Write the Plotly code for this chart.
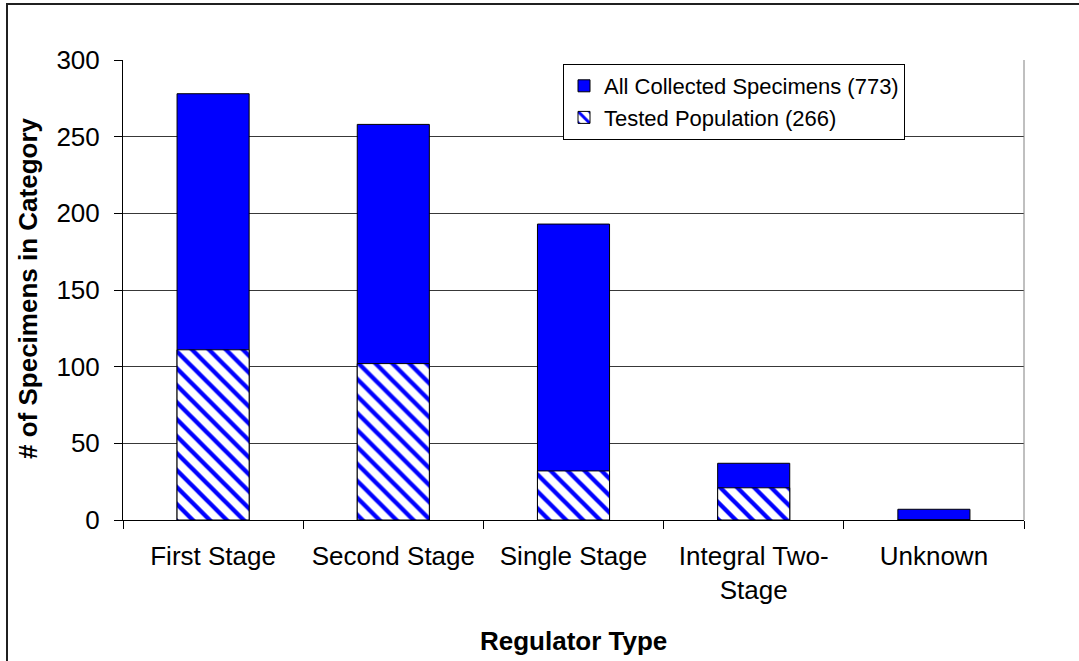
import plotly.graph_objects as go

categories = ["First Stage", "Second Stage", "Single Stage", "Integral Two-<br>Stage", "Unknown"]
all_collected = [278, 258, 193, 37, 7]
tested = [111, 102, 32, 21, 0]
series_names = ["All Collected Specimens (773)", "Tested Population (266)"]
y_ticks = [0, 50, 100, 150, 200, 250, 300]
x_title = "Regulator Type"
y_title = "# of Specimens in Category"

FONT = "Liberation Sans, Arial, sans-serif"

fig = go.Figure()
fig.add_trace(go.Bar(
    x=categories, y=all_collected, name=series_names[0], width=0.4,
    legendgroup="a",
    marker=dict(color="#0000FF", line=dict(color="black", width=1)),
))
fig.add_trace(go.Bar(
    x=categories, y=tested, name=series_names[1], width=0.4,
    legendgroup="b",
    marker=dict(color="white", line=dict(color="black", width=1),
                pattern=dict(shape="\\", fgcolor="#0000FF", bgcolor="white",
                             size=12, solidity=0.36, fillmode="replace")),
))

L, R, T, B = 123, 55, 60, 141
W, H = 1079, 661
pw, ph = W - L - R, H - T - B

def px(xp):
    return (xp - L) / pw

def py(yp):
    return (H - B - yp) / ph

fig.update_layout(
    width=W, height=H,
    margin=dict(l=L, r=R, t=T, b=B),
    paper_bgcolor="white", plot_bgcolor="white",
    barmode="overlay",
    hovermode=False,
    font=dict(family=FONT, size=26, color="black"),
    showlegend=True,
    legend=dict(x=px(563), y=py(64), xanchor="left", yanchor="top",
                bgcolor="white", bordercolor="black", borderwidth=1,
                font=dict(size=22, family=FONT), traceorder="grouped",
                tracegroupgap=0),
    xaxis=dict(
        showline=True, linecolor="black", linewidth=1,
        ticks="outside", ticklen=8, tickcolor="black", tickson="boundaries",
        tickfont=dict(size=26), ticklabelstandoff=13,
    ),
    yaxis=dict(
        range=[0, 300], tickvals=y_ticks,
        showline=True, linecolor="black", linewidth=1,
        ticks="outside", ticklen=8, tickcolor="black",
        showgrid=True, gridcolor="#383838", gridwidth=1,
        tickfont=dict(size=26), ticklabelstandoff=9,
        zeroline=False,
    ),
    annotations=[
        dict(text="<b>" + x_title + "</b>", xref="paper", yref="paper",
             x=px(573), y=py(641), xanchor="center", yanchor="middle",
             showarrow=False, font=dict(size=26, family=FONT)),
        dict(text="<b>" + y_title + "</b>", xref="paper", yref="paper",
             x=px(28), y=py(288), xanchor="center", yanchor="middle",
             textangle=-90, showarrow=False, font=dict(size=26, family=FONT)),
    ],
    shapes=[
        dict(type="line", xref="paper", yref="paper", x0=1, x1=1, y0=0, y1=1,
             line=dict(color="#808080", width=1)),
        dict(type="rect", xref="paper", yref="paper",
             x0=px(7), x1=px(1090), y0=py(675), y1=py(4),
             line=dict(color="#202020", width=2)),
    ],
)

fig.write_html("out.html", config={"displayModeBar": False},
               post_script="document.body.style.margin='0px';")
